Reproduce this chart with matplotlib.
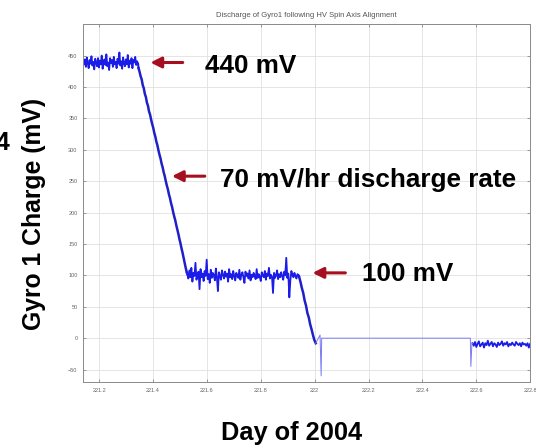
import numpy as np
from matplotlib import pyplot as plt
from matplotlib import font_manager
from matplotlib.patches import FancyArrowPatch

plt.rcParams['font.family'] = ['Liberation Sans', 'DejaVu Sans']

# bold face loaded straight from its file
bold_file = None
for f in font_manager.fontManager.ttflist:
    if f.name == 'Liberation Sans' and f.weight in (700, 'bold') and f.style == 'normal':
        bold_file = f.fname
        break
if bold_file is None:
    bold_file = font_manager.findfont(font_manager.FontProperties(family='DejaVu Sans',
                                                                  weight='bold'))


def bold(size):
    return font_manager.FontProperties(fname=bold_file, size=size)


# Gyro 1 charge (mV), sampled evenly within each segment
seg1_days = (221.14, 221.344)
seg1_mv = [441, 436, 444, 432, 447, 438, 430, 443, 437, 449, 434, 440, 428, 445, 439,
           433, 446, 431, 442, 436, 450, 429, 441, 444, 435, 452, 433, 439, 427, 446,
           438, 443, 432, 448, 436, 440, 430, 445, 437, 455, 434, 441, 429, 447, 438,
           433, 444, 436, 451, 431, 442, 437, 446, 430, 443, 439, 448, 435, 441, 437]

seg2_days = (221.346, 221.525)
seg2_mv = [430, 424, 417, 412, 403, 398, 389, 384, 375, 370, 361, 356, 348, 341, 335,
           327, 321, 313, 307, 299, 292, 286, 278, 272, 264, 258, 250, 243, 237, 229,
           223, 215, 209, 201, 194, 188, 180, 173, 166, 158, 151, 143, 136, 128, 120,
           112, 105]

seg3_days = (221.527, 221.94)
seg3_mv = [102, 95, 108, 97, 112, 90, 104, 99, 120, 93, 101, 106, 78, 110, 97, 103, 91,
           107, 99, 125, 94, 102, 88, 109, 96, 104, 100, 92, 111, 97, 75, 105, 99, 93,
           108, 101, 95, 106, 98, 103, 90, 110, 97, 102, 94, 107, 99, 92, 104, 100, 96,
           109, 93, 101, 105, 97, 88, 106, 99, 103, 95, 108, 92, 101, 97, 104, 99, 94,
           110, 96, 102, 98, 91, 105, 100, 97, 107, 93, 103, 99, 112, 95, 101, 98, 72,
           104, 96, 100, 108, 94, 102, 97, 105, 99, 93, 106, 100, 128, 96, 103, 65, 92,
           107, 101, 97, 104, 99, 95, 102, 100]

seg4_days = (221.942, 222.004)
seg4_mv = [98, 90, 80, 72, 60, 52, 40, 33, 22, 14, 5, -3, -8]

gap_days = [222.02, 222.024, 222.026, 222.578, 222.58, 222.584]
gap_mv = [5, -60, 0, 0, -45, -8]

seg5_days = (222.586, 222.8)
seg5_mv = [-8, -12, -6, -14, -9, -5, -13, -10, -7, -15, -8, -11, -4, -12, -9, -6, -13,
           -8, -10, -14, -7, -11, -9, -5, -12, -8, -10, -6, -13, -9, -11, -7, -10, -12,
           -6, -9, -11, -8, -13, -7, -10, -9, -12, -8, -15, -9]

x_ticks = [221.2, 221.4, 221.6, 221.8, 222.0, 222.2, 222.4, 222.6, 222.8]
x_labels = ['221.2', '221.4', '221.6', '221.8', '222', '222.2', '222.4', '222.6', '222.8']
y_ticks = [-50, 0, 50, 100, 150, 200, 250, 300, 350, 400, 450]

# (label, arrow head x, arrow tail x, y, text x, text y)
notes = [('440 mV', 221.39, 221.51, 439, 221.592, 433),
         ('70 mV/hr discharge rate', 221.47, 221.592, 258, 221.647, 252),
         ('100 mV', 221.992, 222.114, 104, 222.177, 102)]


def segment(days, mv):
    return np.linspace(days[0], days[1], len(mv)), np.array(mv)


fig = plt.figure(figsize=(5.36, 4.48), dpi=100)
ax = fig.add_axes([0.155, 0.147, 0.834, 0.799])

blue = '#1c1ce8'
for days, mv in [(seg1_days, seg1_mv), (seg3_days, seg3_mv), (seg5_days, seg5_mv)]:
    tt, vv = segment(days, mv)
    ax.plot(tt, vv, color=blue, lw=1.3)
for days, mv in [(seg2_days, seg2_mv), (seg4_days, seg4_mv)]:
    tt, vv = segment(days, mv)
    ax.plot(tt, vv, color='#2020c8', lw=1.8)
# joins between segments and the quiet stretch with no data
ax.plot([seg1_days[1], seg2_days[0]], [seg1_mv[-1], seg2_mv[0]], color=blue, lw=1.5)
ax.plot([seg2_days[1], seg3_days[0]], [seg2_mv[-1], seg3_mv[0]], color=blue, lw=1.5)
ax.plot([seg3_days[1], seg4_days[0]], [seg3_mv[-1], seg4_mv[0]], color=blue, lw=1.5)
ax.plot([seg4_days[1]] + gap_days + [seg5_days[0]],
        [seg4_mv[-1]] + gap_mv + [seg5_mv[0]], color='#7a7af5', lw=0.7)

ax.set_xlim(221.14, 222.8)
ax.set_ylim(-70, 500)
ax.set_xticks(x_ticks)
ax.set_xticklabels(x_labels)
ax.set_yticks(y_ticks)
ax.grid(True, color='#e0e0e0', lw=0.6)
ax.set_axisbelow(True)
ax.tick_params(direction='in', length=2.5, width=0.5, colors='#777777',
               labelsize=4, labelcolor='#666666', top=True, right=True, pad=4)
for s in ax.spines.values():
    s.set_color('#8a8a8a')
    s.set_linewidth(0.7)

ax.set_title('Discharge of Gyro1 following HV Spin Axis Alignment', fontsize=5.5,
             color='#555555', pad=5)

red = '#a50f1f'
for label, hx, tx, y, lx, ly in notes:
    ax.add_patch(FancyArrowPatch((tx, y), (hx, y), arrowstyle='-|>', mutation_scale=16,
                                 color=red, lw=2.2, shrinkA=0, shrinkB=0))
    ax.text(lx, ly, label, fontproperties=bold(18.8), va='center', ha='left')

fig.text(34 / 536, 1 - 214 / 448, 'Gyro 1 Charge (mV)', rotation=90,
         fontproperties=bold(17.8), ha='center', va='center')
fig.text(9 / 536, 1 - 143 / 448, '4', fontproperties=bold(17.8), ha='right', va='center')
fig.text(292 / 536, 1 - 433 / 448, 'Day of 2004', fontproperties=bold(18.3),
         ha='center', va='center')

fig.savefig('out.png', dpi=100)
